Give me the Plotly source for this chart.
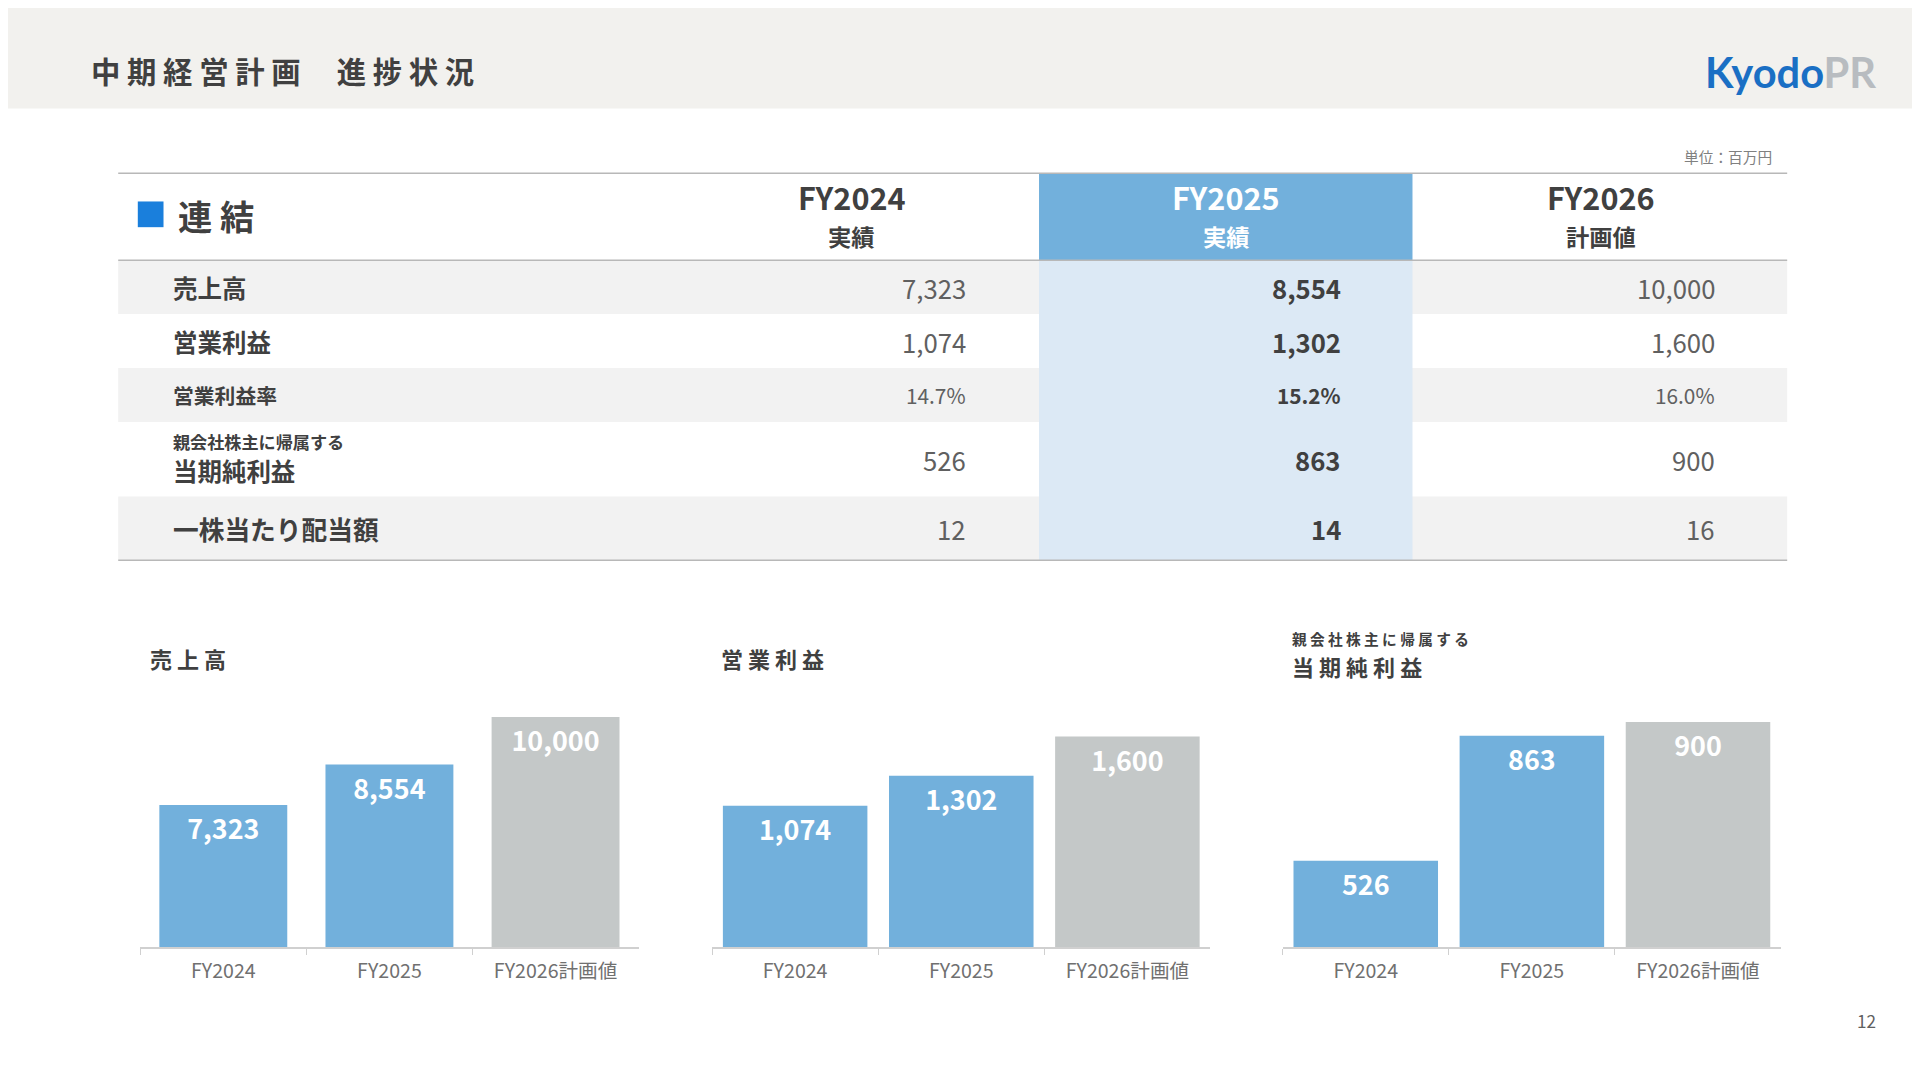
import plotly.graph_objects as go

years = ["FY2024", "FY2025", "FY2026計画値"]
sales = [7323, 8554, 10000]
op_profit = [1074, 1302, 1600]
net_profit = [526, 863, 900]

row_labels = ["売上高", "営業利益", "営業利益率", "当期純利益", "一株当たり配当額"]
col_fy2024 = ["7,323", "1,074", "14.7%", "526", "12"]
col_fy2025 = ["8,554", "1,302", "15.2%", "863", "14"]
col_fy2026 = ["10,000", "1,600", "16.0%", "900", "16"]

W, H = 1568, 882
FONT = "Noto Sans CJK JP"
S = 1920 / 1568
BLUE = "#72b0dc"
GRAY = "#c4c8c8"


def px(x):
    return x / W


def py(y):
    return 1 - y / H


fig = go.Figure()
shapes = []
ann = []


def rect(x0, y0, x1, y1, color):
    shapes.append(dict(type="rect", xref="paper", yref="paper", x0=px(x0), x1=px(x1),
                       y0=py(y1), y1=py(y0), fillcolor=color, line=dict(width=0), layer="below"))


def hline(x0, x1, y, color="#b8b8b8", w=1.5):
    shapes.append(dict(type="line", xref="paper", yref="paper", x0=px(x0), x1=px(x1),
                       y0=py(y), y1=py(y), line=dict(color=color, width=w)))


def text(x, y, s, size, color="#404040", bold=False, xanchor="left", yanchor="middle"):
    if bold:
        s = "<b>" + s + "</b>"
    ann.append(dict(xref="paper", yref="paper", x=px(x), y=py(y), text=s, showarrow=False,
                    xanchor=xanchor, yanchor=yanchor,
                    font=dict(family=FONT, size=size * S, color=color)))


# header band
rect(0, 0, W, 82, "#f2f1ee")
text(66, 51, "中 期 経 営 計 画 　進 捗 状 況", 24, "#404040", True)
ann.append(dict(xref="paper", yref="paper", x=px(1527), y=py(52), showarrow=False, xanchor="right",
                yanchor="middle",
                text="<b><span style='color:#1a6fc4'>Kyodo</span><span style='color:#b8bcc0'>PR</span></b>",
                font=dict(family="Lato", size=34 * S)))
text(1442, 121, "単位：百万円", 12, "#808080", xanchor="right")
text(1527, 827, "12", 14, "#606060", xanchor="right")

# table
rect(842, 135, 1147, 206, BLUE)
rows_y = [(206, 250), (250, 294), (294, 338), (338, 399), (399, 451)]
for i, (a, b) in enumerate(rows_y):
    if i % 2 == 0:
        rect(90, a, 1453, b, "#f2f2f2")
rect(842, 206, 1147, 451, "#dce9f5")
hline(90, 1453, 135)
hline(90, 1453, 206)
hline(90, 1453, 451)

rect(106, 158, 127, 179, "#1a7fdc")
text(137, 169, "連 結", 28, "#404040", True)
for cx, top, sub, col in [(689, "FY2024", "実績", "#404040"), (995, "FY2025", "実績", "white"),
                           (1301, "FY2026", "計画値", "#404040")]:
    text(cx, 154, top, 25, col, True, "center")
    text(cx, 186, sub, 19, col, True, "center")

label_sizes = [20, 20, 17, 20, 21]
for i, (a, b) in enumerate(rows_y):
    cy = (a + b) / 2
    if i == 3:
        text(133, 354, "親会社株主に帰属する", 14, "#404040", True)
        text(133, 378, row_labels[i], 20, "#404040", True)
    else:
        text(133, cy, row_labels[i], label_sizes[i], "#404040", True)
    vs = 17 if i == 2 else 21
    text(784, cy, col_fy2024[i], vs, "#606060", False, "right")
    text(1090, cy, col_fy2025[i], vs, "#404040", True, "right")
    text(1396, cy, col_fy2026[i], vs, "#606060", False, "right")

# charts: values, x0, x1, axis start value, px per unit, bar width
charts = [
    (sales, 108, 515, 3010, 0.0269, 0.77),
    (op_profit, 575, 982, 0, 172 / 1600, 0.87),
    (net_profit, 1041, 1448, 293, 0.303, 0.87),
]
text(114, 531, "売 上 高", 18, "#404040", True)
text(581, 531, "営 業 利 益", 18, "#404040", True)
text(1047, 515, "親 会 社 株 主 に 帰 属 す る", 12, "#404040", True)
text(1047, 537, "当 期 純 利 益", 18, "#404040", True)

layout_axes = {}
for k, (vals, x0, x1, base, scale, bw) in enumerate(charts):
    n = "" if k == 0 else str(k + 1)
    fig.add_trace(go.Bar(
        x=years, y=[v - base for v in vals], base=base, xaxis="x" + n, yaxis="y" + n, width=bw,
        marker=dict(color=[BLUE, BLUE, GRAY], line=dict(width=0)),
        text=[f"{v:,}" for v in vals], textposition="inside", insidetextanchor="end",
        textangle=0, textfont=dict(family=FONT, size=22 * S, color="white", weight="bold"),
        cliponaxis=False, showlegend=False, hoverinfo="skip"))
    top_px = 560
    ymax = base + (767 - top_px) / scale
    layout_axes["xaxis" + n] = dict(domain=[px(x0), px(x1)], anchor="y" + n, range=[-0.5, 2.5],
                                    showline=True, linecolor="#d0d0d0", linewidth=1.5,
                                    ticks="outside", tickson="boundaries", ticklen=6, tickcolor="#d0d0d0",
                                    tickfont=dict(family=FONT, size=16 * S, color="#707070"),
                                    ticklabelstandoff=6, showgrid=False, fixedrange=True)
    layout_axes["yaxis" + n] = dict(domain=[py(767), py(top_px)], anchor="x" + n, range=[base, ymax],
                                    visible=False, showgrid=False)

fig.update_layout(
    width=1920, height=1080, margin=dict(l=0, r=0, t=0, b=0),
    paper_bgcolor="white", plot_bgcolor="rgba(0,0,0,0)",
    shapes=shapes, annotations=ann, bargap=0.2,
    **layout_axes)
fig.write_html("out.html")
